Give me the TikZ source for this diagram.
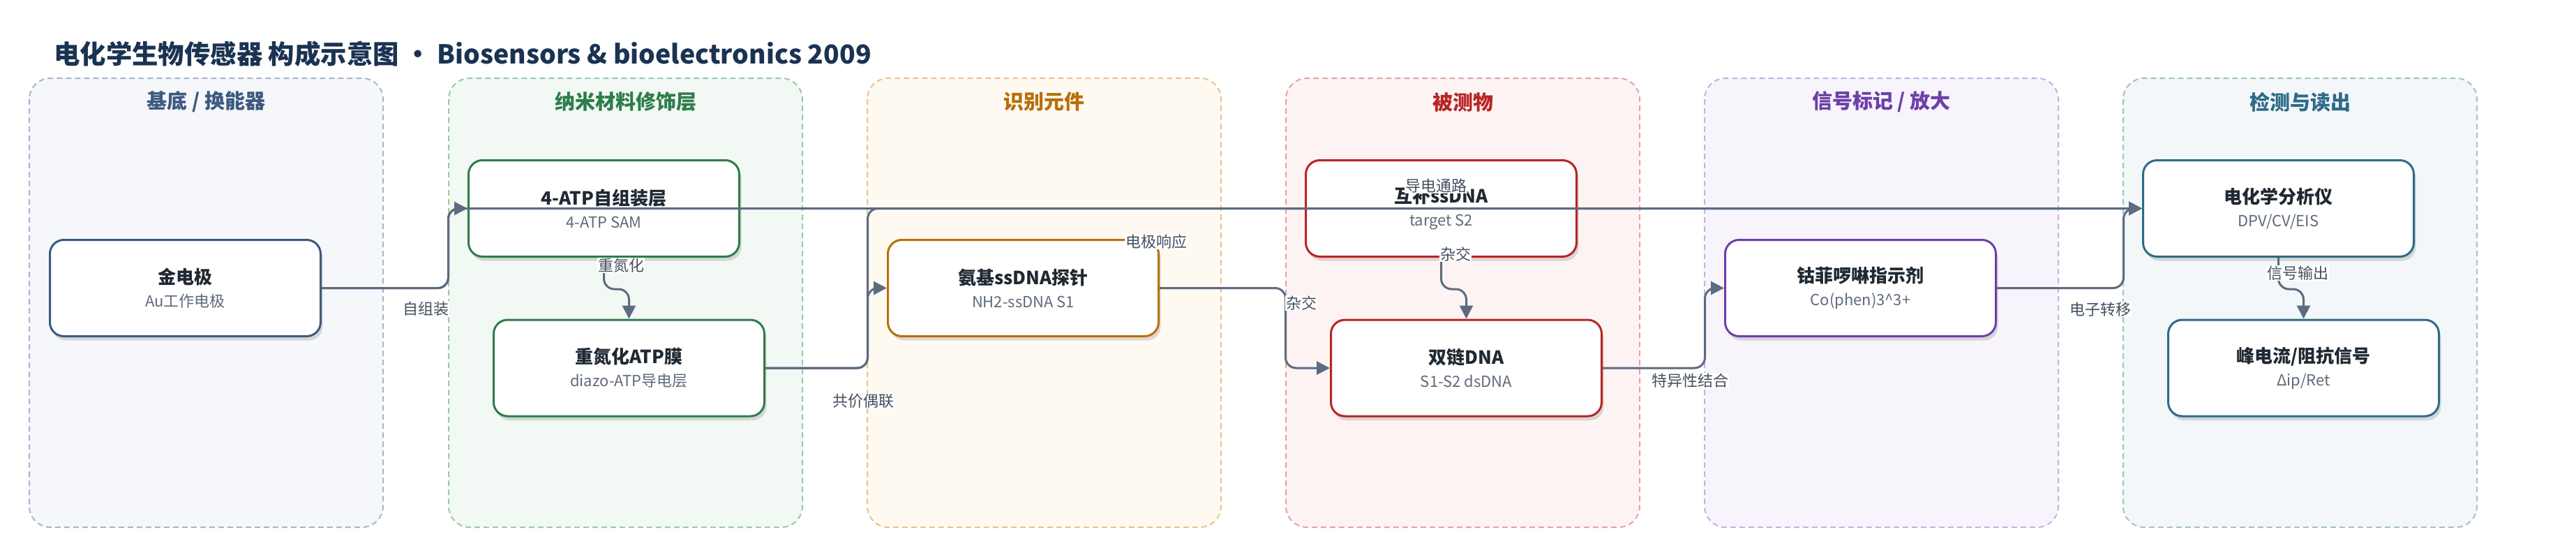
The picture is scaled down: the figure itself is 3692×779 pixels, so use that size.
\documentclass[tikz,border=0pt]{standalone}
\usepackage{fontspec}
\setmainfont{Noto Sans CJK SC}
\usetikzlibrary{arrows.meta,shadows}
\definecolor{titlecol}{HTML}{1B3352}
\definecolor{edgecol}{HTML}{5B6B80}
\definecolor{lblcol}{HTML}{46505F}
\definecolor{ntext}{HTML}{1F2933}
\definecolor{stext}{HTML}{5F6B7A}
\definecolor{laAf}{HTML}{F5F7FB}\definecolor{laAb}{HTML}{A7B6CC}\definecolor{laAc}{HTML}{3D5A80}
\definecolor{laBf}{HTML}{F2F8F4}\definecolor{laBb}{HTML}{9CC9A9}\definecolor{laBc}{HTML}{2E7D4B}
\definecolor{laCf}{HTML}{FEF9F1}\definecolor{laCb}{HTML}{E6C48F}\definecolor{laCc}{HTML}{B7700B}
\definecolor{laDf}{HTML}{FDF3F3}\definecolor{laDb}{HTML}{E7A3A3}\definecolor{laDc}{HTML}{B82525}
\definecolor{laEf}{HTML}{F7F4FB}\definecolor{laEb}{HTML}{C6B2E0}\definecolor{laEc}{HTML}{6E3FA8}
\definecolor{laFf}{HTML}{F3F7F9}\definecolor{laFb}{HTML}{A3C1CA}\definecolor{laFc}{HTML}{2F6B88}
\newcommand{\ntitle}[1]{{\color{ntext}\fontsize{26}{33}\selectfont\bfseries #1}}
\begin{document}
\begin{tikzpicture}[x=1pt,y=-1pt,
  lanebox/.style={line width=2pt, dash pattern=on 8pt off 5pt, rounded corners=30pt},
  lanetitle/.style={font=\fontsize{29}{34}\selectfont\bfseries, inner sep=0pt},
  box/.style={draw, line width=3pt, fill=white, rounded corners=20pt,
    minimum width=388pt, minimum height=138pt, align=center, text=stext,
    font=\fontsize{22}{33}\selectfont,
    drop shadow={shadow xshift=3pt, shadow yshift=-6pt, opacity=0.13, fill=black}},
  edge/.style={draw=edgecol, line width=3pt, rounded corners=15pt,
    -{Triangle[length=19pt,width=19pt]}},
  elabel/.style={fill=white, text=lblcol, inner sep=1pt, font=\fontsize{22}{26}\selectfont}]
\useasboundingbox[fill=white] (0,0) rectangle (3692,779);
% title
\node[anchor=west, inner sep=0pt, text=titlecol, font=\fontsize{37.4}{44}\selectfont\bfseries] (title) at (77,77)
  {电化学生物传感器 构成示意图 • Biosensors \& bioelectronics 2009};
% lanes
\draw[lanebox, draw=laAb, fill=laAf] (42,112) rectangle (549,755);
\draw[lanebox, draw=laBb, fill=laBf] (643,112) rectangle (1150,755);
\draw[lanebox, draw=laCb, fill=laCf] (1243,112) rectangle (1750,755);
\draw[lanebox, draw=laDb, fill=laDf] (1843,112) rectangle (2350,755);
\draw[lanebox, draw=laEb, fill=laEf] (2443,112) rectangle (2950,755);
\draw[lanebox, draw=laFb, fill=laFf] (3043,112) rectangle (3550,755);
\node[lanetitle, text=laAc] (lt1) at (295.5,146) {基底 / 换能器};
\node[lanetitle, text=laBc] (lt2) at (896.5,146) {纳米材料修饰层};
\node[lanetitle, text=laCc] (lt3) at (1496.5,146) {识别元件};
\node[lanetitle, text=laDc] (lt4) at (2096.5,146) {被测物};
\node[lanetitle, text=laEc] (lt5) at (2696.5,146) {信号标记 / 放大};
\node[lanetitle, text=laFc] (lt6) at (3296.5,146) {检测与读出};
% nodes
\node[box, draw=laAc] (g) at (265.5,412.5) {\ntitle{金电极}\\Au工作电极};
\node[box, draw=laBc] (sam) at (865.5,298.5) {\ntitle{4-ATP自组装层}\\4-ATP SAM};
\node[box, draw=laBc] (dia) at (901.5,527) {\ntitle{重氮化ATP膜}\\diazo-ATP导电层};
\node[box, draw=laCc] (probe) at (1466.5,412.5) {\ntitle{氨基ssDNA探针}\\NH2-ssDNA S1};
\node[box, draw=laDc] (tgt) at (2065.5,298.5) {\ntitle{互补ssDNA}\\target S2};
\node[box, draw=laDc] (ds) at (2101.5,527) {\ntitle{双链DNA}\\S1-S2 dsDNA};
\node[box, draw=laEc] (co) at (2666.5,412.5) {\ntitle{钴菲啰啉指示剂}\\Co(phen)3\textasciicircum{}3+};
\node[box, draw=laFc] (ana) at (3265.5,298.5) {\ntitle{电化学分析仪}\\DPV/CV/EIS};
\node[box, draw=laFc] (sig) at (3301.5,527) {\ntitle{峰电流/阻抗信号}\\Δip/Ret};
% edges
\draw[edge] (g.east) -- ++(181.5,0) |- (sam.west);
\draw[edge] (g.east) -- ++(181.5,0) |- (ana.west);
\draw[edge] (sam.south) -- ++(0,45) -| (dia.north);
\draw[edge] (dia.east) -- ++(146.5,0) |- (probe.west);
\draw[edge] (dia.east) -- ++(146.5,0) |- (ana.west);
\draw[edge] (probe.east) -- ++(180.5,0) |- (ds.west);
\draw[edge] (tgt.south) -- ++(0,45) -| (ds.north);
\draw[edge] (ds.east) -- ++(146.5,0) |- (co.west);
\draw[edge] (co.east) -- ++(181.5,0) |- (ana.west);
\draw[edge] (ana.south) -- ++(0,45) -| (sig.north);
% edge labels
\node[elabel] (l1) at (610,442) {自组装};
\node[elabel] (l2) at (890,380) {重氮化};
\node[elabel] (l3) at (1237,574) {共价偶联};
\node[elabel] (l4) at (1657,346) {电极响应};
\node[elabel] (l5) at (1865,434) {杂交};
\node[elabel] (l6) at (2058,266) {导电通路};
\node[elabel] (l7) at (2086,364) {杂交};
\node[elabel] (l8) at (2422,545) {特异性结合};
\node[elabel] (l9) at (3010,443) {电子转移};
\node[elabel] (l10) at (3293,391) {信号输出};
\end{tikzpicture}
\end{document}
